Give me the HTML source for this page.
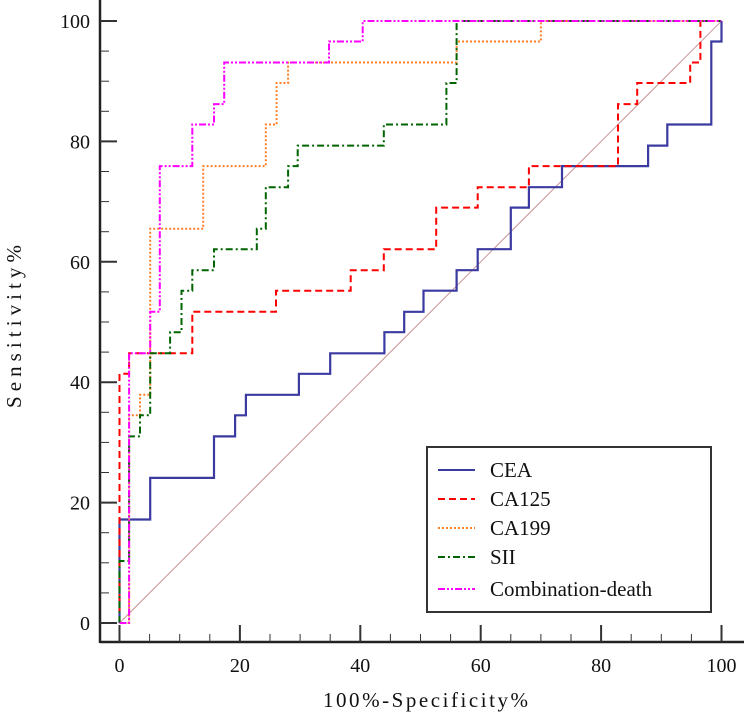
<!DOCTYPE html>
<html><head><meta charset="utf-8"><style>
body{margin:0;background:#fff}
svg text{font-family:"Liberation Serif",serif}
</style></head><body>
<svg id="c" width="744" height="716" xmlns="http://www.w3.org/2000/svg"></svg>
<script>
const xTicks=[0,20,40,60,80,100];
const yTicks=[0,20,40,60,80,100];
const seriesNames=["CEA","CA125","CA199","SII","Combination-death"];
const ceaFpr=[0,0,5.1,5.1,15.7,15.7,19.2,19.2,21,21,29.8,29.8,35,35,44,44,47.3,47.3,50.5,50.5,56,56,59.5,59.5,65,65,68,68,73.5,73.5,87.8,87.8,91,91,98.3,98.3,100,100];
const ceaTpr=[0,17.2,17.2,24.1,24.1,31,31,34.5,34.5,37.9,37.9,41.4,41.4,44.8,44.8,48.3,48.3,51.7,51.7,55.2,55.2,58.6,58.6,62.1,62.1,69,69,72.4,72.4,75.9,75.9,79.3,79.3,82.8,82.8,96.6,96.6,100];
const ca125Fpr=[0,0,1.6,1.6,12.1,12.1,26,26,38.4,38.4,43.9,43.9,52.6,52.6,59.5,59.5,68,68,82.8,82.8,86,86,94.8,94.8,96.5,96.5,100];
const ca125Tpr=[0,41.4,41.4,44.8,44.8,51.7,51.7,55.2,55.2,58.6,58.6,62.1,62.1,69,69,72.4,72.4,75.9,75.9,86.2,86.2,89.7,89.7,93.1,93.1,100,100];
const ca199Fpr=[0,1.6,1.6,3.4,3.4,5.1,5.1,13.9,13.9,24.3,24.3,26.1,26.1,28,28,56,56,70,70,100];
const ca199Tpr=[0,0,34.5,34.5,37.9,37.9,65.5,65.5,75.9,75.9,82.8,82.8,89.7,89.7,93.1,93.1,96.6,96.6,100,100];
const siiFpr=[0,0,1.6,1.6,3.4,3.4,5.1,5.1,8.4,8.4,10.3,10.3,12.1,12.1,15.7,15.7,22.8,22.8,24.3,24.3,28,28,29.6,29.6,43.9,43.9,54.3,54.3,56,56,100];
const siiTpr=[0,10.3,10.3,31,31,34.5,34.5,44.8,44.8,48.3,48.3,55.2,55.2,58.6,58.6,62.1,62.1,65.5,65.5,72.4,72.4,75.9,75.9,79.3,79.3,82.8,82.8,89.7,89.7,100,100];
const combFpr=[0,1.6,1.6,5.1,5.1,6.7,6.7,12.1,12.1,15.7,15.7,17.4,17.4,34.8,34.8,40.4,40.4,100];
const combTpr=[0,0,44.8,44.8,51.7,51.7,75.9,75.9,82.8,82.8,86.2,86.2,93.1,93.1,96.6,96.6,100,100];

const X0=119.5,XS=6.02,Y0=623,YS=6.02;
const sx=v=>X0+v*XS, sy=v=>Y0-v*YS;
const svg=document.getElementById('c');
const NS="http://www.w3.org/2000/svg";
function mk(t,a,p){const e=document.createElementNS(NS,t);for(const k in a)e.setAttribute(k,a[k]);(p||svg).appendChild(e);return e;}

let d=mk('line',{x1:sx(0),y1:sy(0),x2:sx(100),y2:sy(100),stroke:'#c08080','stroke-width':0.8});



const styles=[
 {c:'#3a3aa0',dash:'',w:2.2},
 {c:'#ff0000',dash:'7,4',w:2},
 {c:'#ff7f27',dash:'2,2',w:2},
 {c:'#006400',dash:'7,3,2,3',w:2},
 {c:'#ff00ff',dash:'7,2,2,2,2,2',w:2}
];
const data=[[ceaFpr,ceaTpr],[ca125Fpr,ca125Tpr],[ca199Fpr,ca199Tpr],[siiFpr,siiTpr],[combFpr,combTpr]];
const names=['cea-curve','ca125-curve','ca199-curve','sii-curve','combination-death-curve'];
data.forEach((s,i)=>{
 const pts=s[0].map((x,j)=>sx(x).toFixed(1)+','+sy(s[1][j]).toFixed(1)).join(' ');
 const p=mk('polyline',{points:pts,fill:'none',stroke:styles[i].c,'stroke-width':styles[i].w,'stroke-dasharray':styles[i].dash});
 
 
});

let ax=mk('line',{x1:100,y1:642,x2:744,y2:642,stroke:'#222','stroke-width':2.5});


let ay=mk('line',{x1:100,y1:0,x2:100,y2:643,stroke:'#222','stroke-width':2.5});


for(let v=0;v<=100;v+=5){
 const major=v%20===0;
 mk('line',{x1:sx(v),y1:642,x2:sx(v),y2:major?625:634,stroke:'#333','stroke-width':major?2:1});
 mk('line',{x1:100,y1:sy(v),x2:major?117:109,y2:sy(v),stroke:'#333','stroke-width':major?2:1});
}
xTicks.forEach(v=>{
 const t=mk('text',{x:sx(v),y:672,'text-anchor':'middle','font-size':20,fill:'#111'});t.textContent=v;
 
 
});
yTicks.forEach(v=>{
 const t=mk('text',{x:90,y:sy(v)+7,'text-anchor':'end','font-size':20,fill:'#111'});t.textContent=v;
 
 
});
let xt=mk('text',{x:323,y:707,'font-size':21,fill:'#111',textLength:205,lengthAdjust:'spacing'});
xt.textContent='100%-Specificity%';


let yt=mk('text',{x:0,y:0,'font-size':21,fill:'#111',textLength:163,lengthAdjust:'spacing',transform:'translate(21,408) rotate(-90)'});
yt.textContent='Sensitivity%';



const lg=mk('g',{});


mk('rect',{x:427,y:447,width:284,height:165,fill:'#fff',stroke:'#333','stroke-width':2},lg);
const ly=[470,499,528,557,589];
seriesNames.forEach((n,i)=>{
 const g=mk('g',{},lg);
 
 
 mk('line',{x1:438,y1:ly[i],x2:475,y2:ly[i],stroke:styles[i].c,'stroke-width':2,'stroke-dasharray':styles[i].dash},g);
 const t=mk('text',{x:490,y:ly[i]+7,'font-size':21,fill:'#111'},g);t.textContent=n;
});
</script>
</body></html>
